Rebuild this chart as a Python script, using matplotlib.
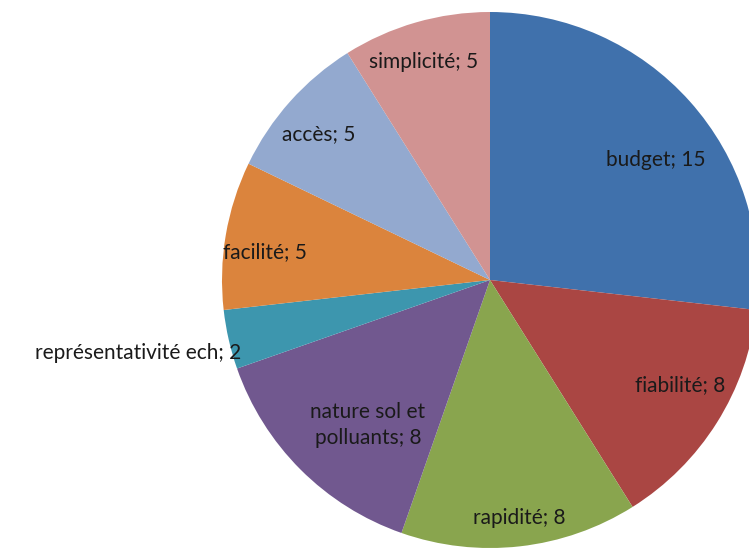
import matplotlib.pyplot as plt

plt.rcParams['font.family'] = ['Lato', 'DejaVu Sans']

labels = ['budget', 'fiabilité', 'rapidité', 'nature sol et\npolluants',
          'représentativité ech', 'facilité', 'accès', 'simplicité']
values = [15, 8, 8, 8, 2, 5, 5, 5]
colors = ['#4071AC', '#AA4643', '#89A54E', '#71588F',
          '#3D96AE', '#DB843D', '#93A9CF', '#D19392']

H = 550
# label centres in pixels (x, y measured from the top)
label_xy = [(656, 160), (680, 385), (519, 518), (368, 425),
            (138, 353), (265, 252), (319, 134), (424, 62)]

fig = plt.figure(figsize=(7.49, 5.5), dpi=100)
ax = fig.add_axes([0, 0, 1, 1])

ax.pie(values, colors=colors, startangle=90, counterclock=False,
       center=(490, H - 280), radius=268,
       wedgeprops=dict(linewidth=0))

for lab, v, (x, y) in zip(labels, values, label_xy):
    ax.text(x, H - y, f'{lab}; {v}', ha='center', va='center',
            fontsize=15, color='#1a1a1a', linespacing=1.4)

ax.set_xlim(0, 749)
ax.set_ylim(0, H)
ax.set_aspect('equal')
ax.axis('off')

fig.savefig('out.png', dpi=100)
